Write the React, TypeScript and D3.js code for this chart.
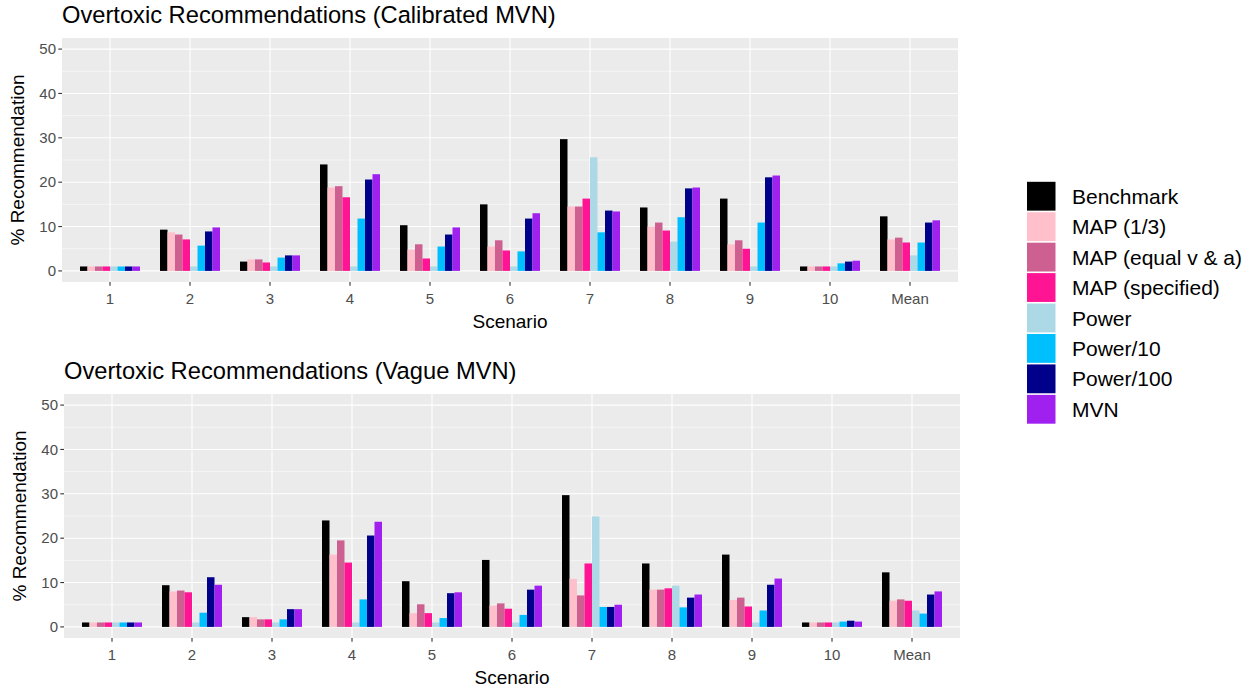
import React from 'react';
import * as d3 from 'd3';

const scenarios = ['1', '2', '3', '4', '5', '6', '7', '8', '9', '10', 'Mean'];
const methods = [
  'Benchmark',
  'MAP (1/3)',
  'MAP (equal v & a)',
  'MAP (specified)',
  'Power',
  'Power/10',
  'Power/100',
  'MVN',
];
const methodColors = ['#000000', '#FFC0CB', '#CD6090', '#FF1493', '#ADD8E6', '#00BFFF', '#00008B', '#A020F0'];
const yTicks = [0, 10, 20, 30, 40, 50];
const yMinor = [5, 15, 25, 35, 45];

// one row per method, one value per scenario (last is the mean)
const calibrated = [
  [1.0, 9.3, 2.1, 24.0, 10.3, 15.0, 29.7, 14.3, 16.3, 1.0, 12.3],
  [1.0, 8.7, 2.6, 18.8, 4.8, 5.5, 14.5, 10.0, 6.0, 1.0, 7.1],
  [1.0, 8.2, 2.6, 19.1, 6.0, 6.9, 14.5, 10.9, 6.9, 1.0, 7.5],
  [1.0, 7.1, 1.9, 16.6, 2.8, 4.6, 16.3, 9.1, 5.0, 1.0, 6.4],
  [1.0, 1.0, 1.0, 1.0, 1.0, 1.0, 25.6, 6.6, 1.0, 1.0, 3.5],
  [1.0, 5.7, 3.0, 11.8, 5.5, 4.4, 8.7, 12.1, 10.9, 1.7, 6.4],
  [1.0, 8.9, 3.5, 20.6, 8.2, 11.8, 13.6, 18.6, 21.1, 2.1, 10.9],
  [1.0, 9.8, 3.5, 21.8, 9.8, 13.0, 13.4, 18.8, 21.5, 2.3, 11.4],
];

const vague = [
  [1.0, 9.4, 2.2, 24.0, 10.3, 15.1, 29.7, 14.3, 16.3, 1.0, 12.3],
  [1.0, 8.0, 2.2, 16.3, 3.1, 4.8, 10.8, 8.4, 6.1, 1.0, 5.9],
  [1.0, 8.2, 1.7, 19.5, 5.1, 5.3, 7.1, 8.4, 6.6, 1.0, 6.2],
  [1.0, 7.8, 1.7, 14.5, 3.1, 4.1, 14.3, 8.7, 4.6, 1.0, 5.9],
  [1.0, 1.0, 1.0, 1.0, 1.0, 1.0, 24.9, 9.3, 1.0, 1.0, 3.7],
  [1.0, 3.2, 1.7, 6.2, 2.0, 2.7, 4.5, 4.4, 3.7, 1.2, 3.0],
  [1.0, 11.2, 4.0, 20.6, 7.6, 8.4, 4.5, 6.6, 9.5, 1.4, 7.3],
  [1.0, 9.5, 4.0, 23.7, 7.8, 9.3, 5.0, 7.3, 10.9, 1.2, 8.0],
];

const FONT = '"Liberation Sans", Arial, sans-serif';

const Panel = ({ title, values, left, top }) => {
  const width = 896;
  const height = 244;
  const x = d3.scalePoint().domain(scenarios).range([left, left + width]).padding(0.6);
  const dodge = d3
    .scaleBand()
    .domain(methods)
    .range([-x.step() * 0.375, x.step() * 0.375]);
  const y = d3.scaleLinear().domain([-2.5, 52.5]).range([top + height, top]);

  return (
    <g>
      <text x={left} y={top - 15} fontSize={23.7} fill="#000" fontFamily={FONT}>
        {title}
      </text>
      <rect x={left} y={top} width={width} height={height} fill="#EBEBEB" />
      {yMinor.map((t) => (
        <line key={'m' + t} x1={left} x2={left + width} y1={y(t)} y2={y(t)} stroke="#fff" strokeWidth={0.55} />
      ))}
      {yTicks.map((t) => (
        <line key={'g' + t} x1={left} x2={left + width} y1={y(t)} y2={y(t)} stroke="#fff" strokeWidth={1.1} />
      ))}
      {scenarios.map((s) => (
        <line key={'v' + s} x1={x(s)} x2={x(s)} y1={top} y2={top + height} stroke="#fff" strokeWidth={1.1} />
      ))}
      {methods.map((m, i) =>
        values[i].map((v, j) => (
          <rect
            key={m + j}
            x={x(scenarios[j]) + dodge(m)}
            y={y(v)}
            width={dodge.bandwidth()}
            height={y(0) - y(v)}
            fill={methodColors[i]}
          />
        ))
      )}
      {yTicks.map((t) => (
        <g key={'yt' + t}>
          <line x1={left - 3.7} x2={left} y1={y(t)} y2={y(t)} stroke="#333" strokeWidth={1.1} />
          <text x={left - 6} y={y(t)} dy="0.35em" textAnchor="end" fontSize={15} fill="#4D4D4D" fontFamily={FONT}>
            {t}
          </text>
        </g>
      ))}
      {scenarios.map((s) => (
        <g key={'xt' + s}>
          <line x1={x(s)} x2={x(s)} y1={top + height} y2={top + height + 3.7} stroke="#333" strokeWidth={1.1} />
          <text x={x(s)} y={top + height + 22} textAnchor="middle" fontSize={15} fill="#4D4D4D" fontFamily={FONT}>
            {s}
          </text>
        </g>
      ))}
      <text
        x={left + width / 2}
        y={top + height + 46}
        textAnchor="middle"
        fontSize={19}
        fill="#000"
        fontFamily={FONT}
      >
        Scenario
      </text>
      <text
        transform={`translate(${left - 38},${y(25)}) rotate(-90)`}
        textAnchor="middle"
        fontSize={19}
        fill="#000"
        fontFamily={FONT}
      >
        % Recommendation
      </text>
    </g>
  );
};

const Legend = ({ left, top }) => {
  const rows = d3.scaleBand().domain(methods).range([top, top + 243.5]);
  return (
    <g>
      {methods.map((m, i) => (
        <g key={m}>
          <rect x={left} y={rows(m) + 0.8} width={28.5} height={rows.bandwidth() - 1.6} fill={methodColors[i]} />
          <text
            x={left + 45}
            y={rows(m) + rows.bandwidth() / 2}
            dy="0.36em"
            fontSize={21}
            fill="#000"
            fontFamily={FONT}
          >
            {m}
          </text>
        </g>
      ))}
    </g>
  );
};

export default function App() {
  return (
    <div style={{ position: 'absolute', left: 0, top: 0 }}>
      <svg width={1259} height={689} style={{ display: 'block', background: '#fff' }}>
        <Panel title="Overtoxic Recommendations (Calibrated MVN)" values={calibrated} left={62} top={38} />
        <Panel title="Overtoxic Recommendations (Vague MVN)" values={vague} left={64} top={394} />
        <Legend left={1027} top={181} />
      </svg>
    </div>
  );
}
